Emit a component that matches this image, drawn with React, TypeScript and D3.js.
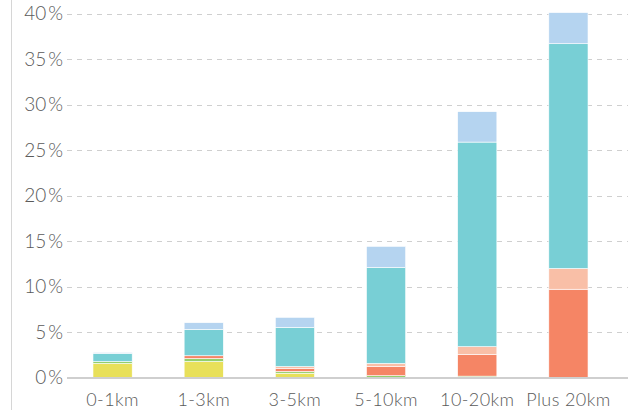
import React, { useRef, useEffect } from 'react';
import * as d3 from 'd3';

const categories = ['0-1km', '1-3km', '3-5km', '5-10km', '10-20km', 'Plus 20km'];

// share of trips (%) per segment, bottom to top
const yellowVals = [1.55, 1.76, 0.47, 0, 0, 0];
const greenVals = [0.2, 0.33, 0.19, 0.2, 0.15, 0];
const salmonVals = [0, 0.3, 0.33, 1.02, 2.4, 9.7];
const lightSalmonVals = [0, 0, 0.22, 0.33, 0.84, 2.28];
const tealVals = [0.9, 2.9, 4.3, 10.55, 22.48, 24.7];
const lightBlueVals = [0.1, 0.73, 1.1, 2.31, 3.34, 3.42];

const seriesKeys = ['yellow', 'green', 'salmon', 'lightSalmon', 'teal', 'lightBlue'];
const seriesColors = ['#e8e05a', '#93cf6b', '#f58565', '#f9bfa7', '#78cfd5', '#b5d4f0'];
const yTicks = [0, 5, 10, 15, 20, 25, 30, 35, 40];

const App: React.FC = () => {
  const ref = useRef<SVGSVGElement | null>(null);

  useEffect(() => {
    const svg = d3.select(ref.current);
    svg.selectAll('*').remove();

    const rows = categories.map((c, i) => ({
      cat: c,
      yellow: yellowVals[i],
      green: greenVals[i],
      salmon: salmonVals[i],
      lightSalmon: lightSalmonVals[i],
      teal: tealVals[i],
      lightBlue: lightBlueVals[i],
    }));

    const x = d3.scaleBand<string>()
      .domain(categories)
      .range([67, 614])
      .paddingInner(0.57)
      .paddingOuter(0.285);

    const y = d3.scaleLinear().domain([0, 40]).range([377.5, 13.5]);

    const font = 'Lato, "Open Sans", sans-serif';

    // left rule
    svg.append('line')
      .attr('x1', 11.5).attr('x2', 11.5)
      .attr('y1', 0).attr('y2', 410)
      .attr('stroke', '#d6d6d6').attr('stroke-width', 1);

    // grid
    svg.append('g')
      .selectAll('line')
      .data(yTicks.filter(t => t > 0))
      .join('line')
      .attr('x1', 67).attr('x2', 628)
      .attr('y1', d => Math.round(y(d)) + 0.5)
      .attr('y2', d => Math.round(y(d)) + 0.5)
      .attr('stroke', '#cfcfcf')
      .attr('stroke-dasharray', '5,5');

    const yl = svg.append('g')
      .selectAll('text')
      .data(yTicks)
      .join('text')
      .attr('x', 63)
      .attr('y', d => y(d))
      .attr('dy', '0.35em')
      .attr('text-anchor', 'end')
      .attr('font-family', font)
      .attr('font-weight', 300)
      .attr('font-size', 19)
      .attr('fill', '#5a5a5a');
    yl.append('tspan').text(d => `${d}`);
    yl.append('tspan').attr('dx', 2).text('%');

    const stack = d3.stack<any>().keys(seriesKeys);
    const layers = stack(rows);

    svg.append('g')
      .selectAll('g')
      .data(layers)
      .join('g')
      .attr('fill', (_, i) => seriesColors[i])
      .selectAll('rect')
      .data(d => d)
      .join('rect')
      .attr('x', d => x(d.data.cat) as number)
      .attr('width', x.bandwidth())
      .attr('y', d => y(d[1]))
      .attr('height', d => Math.max(0, y(d[0]) - y(d[1])))
      .attr('stroke', '#fff')
      .attr('stroke-width', 0.6);

    // baseline
    svg.append('line')
      .attr('x1', 67).attr('x2', 628)
      .attr('y1', y(0) + 0.5).attr('y2', y(0) + 0.5)
      .attr('stroke', '#cfcfcf').attr('stroke-width', 2);

    svg.append('g')
      .selectAll('text')
      .data(categories)
      .join('text')
      .attr('x', d => (x(d) as number) + x.bandwidth() / 2)
      .attr('y', 406)
      .attr('text-anchor', 'middle')
      .attr('font-family', font)
      .attr('font-weight', 300)
      .attr('font-size', 18)
      .attr('letter-spacing', 0.4)
      .attr('fill', '#5a5a5a')
      .text(d => d);
  }, []);

  return (
    <svg
      ref={ref}
      width={634}
      height={410}
      style={{ position: 'absolute', left: 0, top: 0, background: '#fff' }}
    />
  );
};

export default App;
